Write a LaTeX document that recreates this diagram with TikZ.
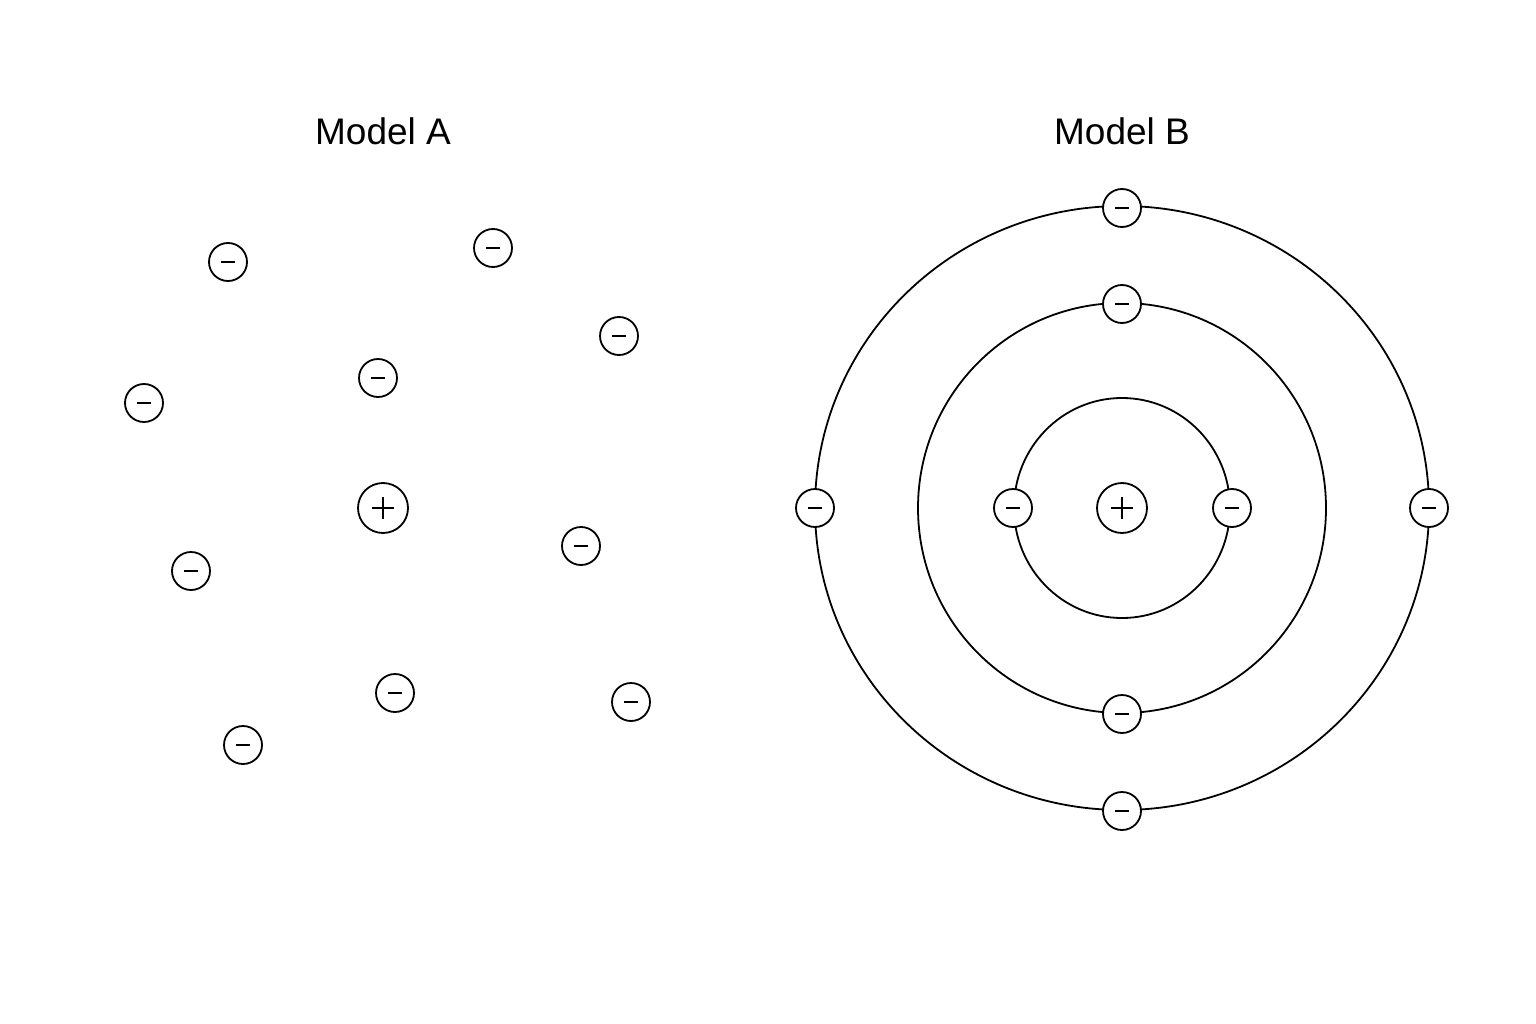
\documentclass[tikz,border=0pt]{standalone}
\usepackage{fontspec}
\setmainfont{Liberation Sans}
\begin{document}
\begin{tikzpicture}[x=1pt,y=-1pt,
  el/.style={circle,draw,line width=1.8pt,minimum size=38pt,inner sep=0pt,
    path picture={\draw[line width=1.8pt] ([xshift=-7pt]path picture bounding box.center) -- ([xshift=7pt]path picture bounding box.center);}},
  nuc/.style={circle,draw,line width=1.8pt,minimum size=50pt,inner sep=0pt,
    path picture={\draw[line width=1.8pt] ([xshift=-11pt]path picture bounding box.center) -- ([xshift=11pt]path picture bounding box.center)
      ([yshift=-11pt]path picture bounding box.center) -- ([yshift=11pt]path picture bounding box.center);}},
  orbit/.style={line width=1.8pt},
  title/.style={font=\fontsize{37}{42}\selectfont}]
\useasboundingbox (0,0) rectangle (1536,1024);
\node[title] (ta) at (383,131) {Model A};
\node[title] (tb) at (1122,131) {Model B};
% Model A
\node[nuc] (na) at (383,508) {};
\foreach \n/\x/\y in {a1/228/262,a2/493/248,a3/619/336,a4/378/378,a5/144/403,a6/581/546,a7/191/571,a8/395/693,a9/631/702,a10/243/745}
  \node[el] (\n) at (\x,\y) {};
% Model B
\coordinate (cb) at (1122,508);
\draw[orbit] (cb) circle[x radius=108,y radius=110];
\draw[orbit] (cb) circle[x radius=204,y radius=205];
\draw[orbit] (cb) circle[x radius=307,y radius=302];
\node[nuc,fill=white] (nb) at (cb) {};
\foreach \n/\x/\y in {b1/1013/508,b2/1232/508,b3/1122/304,b4/1122/714,b5/1122/208,b6/1122/811,b7/815/508,b8/1429/508}
  \node[el,fill=white] (\n) at (\x,\y) {};
\end{tikzpicture}
\end{document}
